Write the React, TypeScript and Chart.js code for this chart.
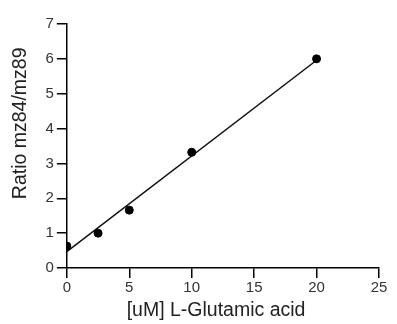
import React, { useEffect, useRef } from "react";
import { Chart, registerables } from "chart.js";

Chart.register(...registerables);

const concentrations = [0, 2.5, 5, 10, 20];
const ratios = [0.63, 1.0, 1.66, 3.32, 6.0];
const fitX = [0, 20];
const fitY = [0.47, 5.96];
const xTicks = [0, 5, 10, 15, 20, 25];
const yTicks = [0, 1, 2, 3, 4, 5, 6, 7];
const xTitle = "[uM] L-Glutamic acid";
const yTitle = "Ratio mz84/mz89";

export default function App() {
  const ref = useRef<HTMLCanvasElement | null>(null);
  useEffect(() => {
    if (!ref.current) return;
    const font = "'Liberation Sans', Arial, sans-serif";
    const axisCommon = {
      grid: {
        display: true,
        drawOnChartArea: false,
        drawTicks: true,
        tickLength: 10,
        color: "#000",
        lineWidth: 1.5,
      },
      border: { display: true, color: "#000", width: 1.5 },
    };
    const titlePlugin = {
      id: "axisTitles",
      afterDraw(c: any) {
        const ctx = c.ctx;
        const a = c.chartArea;
        ctx.save();
        ctx.fillStyle = "#222";
        ctx.font = `19.5px ${font}`;
        ctx.textAlign = "center";
        ctx.textBaseline = "alphabetic";
        ctx.fillText(xTitle, a.left + (a.right - a.left) * 0.478, a.bottom + 48);
        ctx.translate(25.5, a.top + (a.bottom - a.top) * 0.407);
        ctx.rotate(-Math.PI / 2);
        ctx.fillText(yTitle, 0, 0);
        ctx.restore();
      },
    };
    const chart = new Chart(ref.current, {
      type: "scatter",
      data: {
        datasets: [
          {
            label: "data",
            data: concentrations.map((x, i) => ({ x, y: ratios[i] })),
            backgroundColor: "#000",
            borderColor: "#000",
            pointRadius: 4,
            showLine: false,
          },
          {
            label: "fit",
            data: fitX.map((x, i) => ({ x, y: fitY[i] })),
            borderColor: "#111",
            borderWidth: 1.5,
            pointRadius: 0,
            showLine: true,
          },
        ],
      },
      plugins: [titlePlugin],
      options: {
        animation: false,
        responsive: true,
        maintainAspectRatio: false,
        layout: { padding: { top: 24, right: 18, bottom: 26, left: 42.5 } },
        plugins: { legend: { display: false }, tooltip: { enabled: false } },
        scales: {
          x: {
            type: "linear",
            min: 0,
            max: 25,
            afterBuildTicks: (s: any) => {
              s.ticks = xTicks.map((v) => ({ value: v }));
            },
            ...axisCommon,
            ticks: { color: "#333", font: { family: font, size: 15 }, padding: 1 },
          },
          y: {
            type: "linear",
            min: 0,
            max: 7,
            afterBuildTicks: (s: any) => {
              s.ticks = yTicks.map((v) => ({ value: v }));
            },
            ...axisCommon,
            ticks: { color: "#333", font: { family: font, size: 15 }, padding: 3 },
          },
        },
      },
    });
    return () => chart.destroy();
  }, []);
  return (
    <div style={{ position: "fixed", left: 0, top: 0, width: 397, height: 324, background: "#fff" }}>
      <canvas ref={ref} />
    </div>
  );
}
